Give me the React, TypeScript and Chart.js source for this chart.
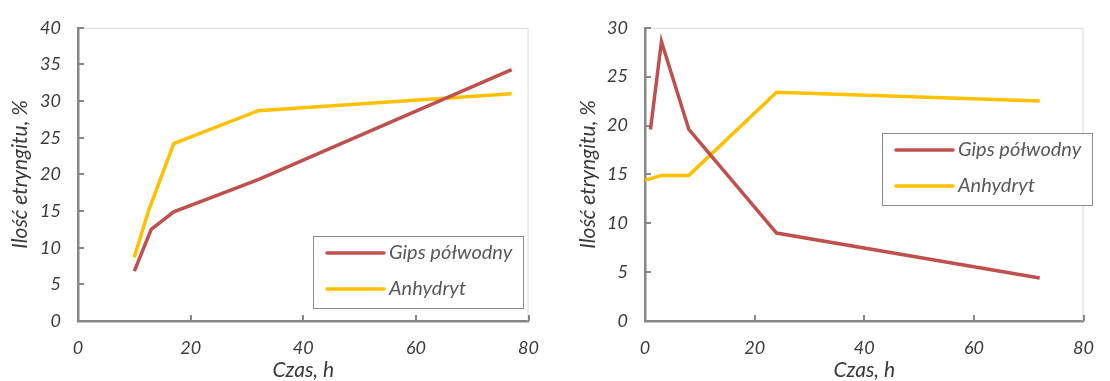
import React, { useEffect, useRef } from "react";
import { Chart, registerables } from "chart.js";

Chart.register(...registerables);

// Series and axis texts
const seriesNames = ["Gips półwodny", "Anhydryt"];
const xTitle = "Czas, h";
const yTitle = "Ilość etryngitu, %";
const seriesColors = ["#C0504D", "#FFC000"];

// Left panel: time (h) and ettringite content (%)
const leftGipsTime = [10, 13, 17, 32, 77];
const leftGipsValue = [6.8, 12.5, 14.9, 19.3, 34.3];
const leftAnhTime = [10, 12.5, 17, 32, 77];
const leftAnhValue = [8.7, 15.0, 24.2, 28.7, 31.0];

// Right panel: time (h) and ettringite content (%)
const rightGipsTime = [1, 3, 8, 24, 72];
const rightGipsValue = [19.6, 28.6, 19.6, 9.0, 4.4];
const rightAnhTime = [0, 3, 8, 24, 72];
const rightAnhValue = [14.4, 14.9, 14.9, 23.4, 22.5];

// Axis ranges
const xMax = 80;
const xStep = 20;
const leftYMax = 40;
const rightYMax = 30;
const yStep = 5;

const FONT = "Lato, 'Open Sans', sans-serif";
const AXIS_COLOR = "#878787";
const TEXT_COLOR = "#3a3a3a";

type Geom = {
  yWidth: number;
  padRight: number;
  yTitlePad: number;
  legend: { x: number; y: number; w: number; h: number };
};

const framePlugin = {
  id: "frame",
  beforeDatasetsDraw(chart: any) {
    const { ctx, chartArea: a, scales } = chart;
    ctx.save();
    // light top / right border of the plot area
    ctx.strokeStyle = "#d9d9d9";
    ctx.lineWidth = 1;
    ctx.beginPath();
    ctx.moveTo(a.left, a.top + 0.5);
    ctx.lineTo(a.right - 0.5, a.top + 0.5);
    ctx.lineTo(a.right - 0.5, a.bottom);
    ctx.stroke();
    // inward tick marks
    ctx.strokeStyle = AXIS_COLOR;
    ctx.lineWidth = 2;
    scales.y.ticks.forEach((_t: any, i: number) => {
      const y = Math.round(scales.y.getPixelForTick(i));
      ctx.beginPath();
      ctx.moveTo(a.left, y);
      ctx.lineTo(a.left + 6, y);
      ctx.stroke();
    });
    scales.x.ticks.forEach((_t: any, i: number) => {
      const x = Math.round(scales.x.getPixelForTick(i));
      ctx.beginPath();
      ctx.moveTo(x, a.bottom);
      ctx.lineTo(x, a.bottom - 6);
      ctx.stroke();
    });
    ctx.restore();
  },
  afterDatasetsDraw(chart: any, _args: any, opts: any) {
    if (!opts || opts.w == null) return;
    const { ctx } = chart;
    ctx.save();
    ctx.fillStyle = "#ffffff";
    ctx.fillRect(opts.x, opts.y, opts.w, opts.h);
    ctx.strokeStyle = "#8c8c8c";
    ctx.lineWidth = 1;
    ctx.strokeRect(opts.x + 0.5, opts.y + 0.5, opts.w, opts.h);
    ctx.font = `italic 20px ${FONT}`;
    ctx.textBaseline = "middle";
    ctx.textAlign = "left";
    chart.data.datasets.forEach((ds: any, i: number) => {
      const y = opts.y + 17 + i * 36;
      ctx.strokeStyle = ds.borderColor;
      ctx.lineWidth = 3.5;
      ctx.lineCap = "round";
      ctx.beginPath();
      ctx.moveTo(opts.x + 14, y);
      ctx.lineTo(opts.x + 71, y);
      ctx.stroke();
      ctx.fillStyle = "#595959";
      ctx.fillText(ds.label, opts.x + 76, y);
    });
    ctx.restore();
  },
};

function makeConfig(
  gx: number[],
  gy: number[],
  ax: number[],
  ay: number[],
  yMax: number,
  geom: Geom
): any {
  const tickFont = { family: FONT, size: 18, style: "italic" as const };
  const titleFont = { family: FONT, size: 21, style: "italic" as const, lineHeight: 1 };
  return {
    type: "line",
    data: {
      datasets: [
        {
          label: seriesNames[0],
          data: gx.map((x, i) => ({ x, y: gy[i] })),
          borderColor: seriesColors[0],
          backgroundColor: seriesColors[0],
          borderWidth: 3.5,
          pointRadius: 0,
          tension: 0,
          fill: false,
        },
        {
          label: seriesNames[1],
          data: ax.map((x, i) => ({ x, y: ay[i] })),
          borderColor: seriesColors[1],
          backgroundColor: seriesColors[1],
          borderWidth: 3.5,
          pointRadius: 0,
          tension: 0,
          fill: false,
        },
      ],
    },
    options: {
      animation: false,
      responsive: false,
      maintainAspectRatio: false,
      layout: { padding: { top: 20, right: geom.padRight, left: 0, bottom: 0 } },
      plugins: {
        legend: { display: false },
        tooltip: { enabled: false },
        frame: geom.legend,
      },
      scales: {
        x: {
          type: "linear",
          min: 0,
          max: xMax,
          ticks: { stepSize: xStep, font: tickFont, color: TEXT_COLOR, padding: 16 },
          grid: { display: false, drawTicks: false },
          border: { display: true, color: AXIS_COLOR, width: 2.5 },
          title: {
            display: true,
            text: xTitle,
            font: titleFont,
            color: TEXT_COLOR,
            padding: { top: 0, bottom: 0 },
          },
          afterFit: (s: any) => {
            s.height = 60;
          },
        },
        y: {
          type: "linear",
          min: 0,
          max: yMax,
          ticks: { stepSize: yStep, font: tickFont, color: TEXT_COLOR, padding: 17 },
          grid: { display: false, drawTicks: false },
          border: { display: true, color: AXIS_COLOR, width: 2.5 },
          title: {
            display: true,
            text: yTitle,
            font: titleFont,
            color: TEXT_COLOR,
            padding: { top: geom.yTitlePad, bottom: 0 },
          },
          afterFit: (s: any) => {
            s.width = geom.yWidth;
          },
        },
      },
    },
    plugins: [framePlugin],
  };
}

function Panel(props: { config: () => any; left: number }) {
  const ref = useRef<HTMLCanvasElement | null>(null);
  useEffect(() => {
    if (!ref.current) return;
    const chart = new Chart(ref.current, props.config());
    return () => chart.destroy();
  }, []);
  return (
    <canvas
      ref={ref}
      width={555}
      height={381}
      style={{ position: "absolute", left: props.left, top: 0, width: 555, height: 381 }}
    />
  );
}

export default function App() {
  return (
    <div
      style={{
        position: "fixed",
        left: 0,
        top: 0,
        width: 1110,
        height: 381,
        background: "#ffffff",
        overflow: "hidden",
      }}
    >
      <Panel
        left={0}
        config={() =>
          makeConfig(leftGipsTime, leftGipsValue, leftAnhTime, leftAnhValue, leftYMax, {
            yWidth: 78,
            padRight: 22,
            yTitlePad: 9.5,
            legend: { x: 313, y: 236, w: 210, h: 72 },
          })
        }
      />
      <Panel
        left={555}
        config={() =>
          makeConfig(rightGipsTime, rightGipsValue, rightAnhTime, rightAnhValue, rightYMax, {
            yWidth: 90,
            padRight: 11,
            yTitlePad: 22.5,
            legend: { x: 327, y: 133, w: 210, h: 72 },
          })
        }
      />
    </div>
  );
}
